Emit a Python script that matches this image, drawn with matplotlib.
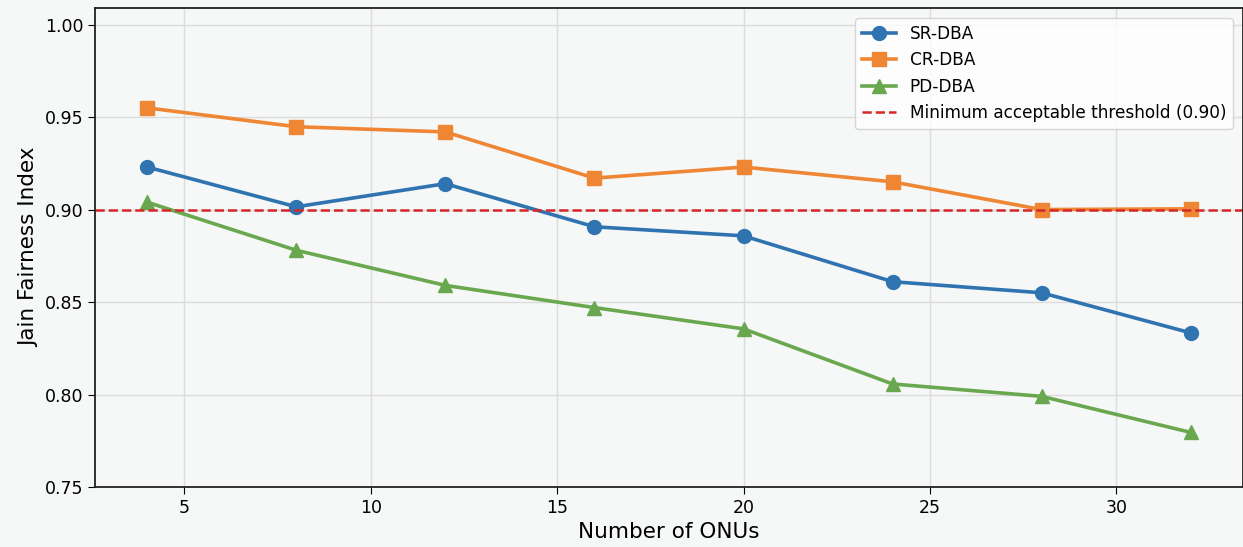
import numpy as np
import matplotlib.pyplot as plt

onus = [4, 8, 12, 16, 20, 24, 28, 32]
sr_dba = [0.923, 0.9015, 0.914, 0.8907, 0.8858, 0.861, 0.855, 0.8333]
cr_dba = [0.955, 0.9448, 0.942, 0.917, 0.923, 0.915, 0.900, 0.9004]
pd_dba = [0.904, 0.878, 0.859, 0.847, 0.8355, 0.8057, 0.799, 0.7795]
threshold = 0.90

bg = '#f6f7f7'
fig = plt.figure(figsize=(12.43, 5.47), dpi=100, facecolor=bg)
ax = fig.add_axes([0.0764, 0.1097, 0.9236, 0.8757])
ax.set_facecolor(bg)

ax.plot(onus, sr_dba, color='#2f74b0', marker='o', markersize=10, linewidth=2.6, label='SR-DBA')
ax.plot(onus, cr_dba, color='#ee8633', marker='s', markersize=9.5, linewidth=2.6, label='CR-DBA')
ax.plot(onus, pd_dba, color='#6aa84f', marker='^', markersize=9.5, linewidth=2.6, label='PD-DBA')
ax.axhline(threshold, color='#d62728', linestyle='--', linewidth=1.8,
           label='Minimum acceptable threshold (0.90)')

ax.set_ylim(0.75, 1.009)
ax.set_yticks([0.75, 0.80, 0.85, 0.90, 0.95, 1.00])
ax.set_xticks([5, 10, 15, 20, 25, 30])
ax.grid(True, color='#dcdcdc', linewidth=1)
ax.set_axisbelow(True)
ax.tick_params(labelsize=12.5, length=5)
ax.set_xlabel('Number of ONUs', fontsize=15.5)
ax.set_ylabel('Jain Fairness Index', fontsize=15.5)
for s in ax.spines.values():
    s.set_linewidth(1.3)
    s.set_color('#222222')

ax.legend(loc='upper right', fontsize=12.2, facecolor='white', framealpha=0.8,
          edgecolor='#cccccc', borderaxespad=0.6)

plt.savefig('out.png', dpi=100, facecolor=bg)
